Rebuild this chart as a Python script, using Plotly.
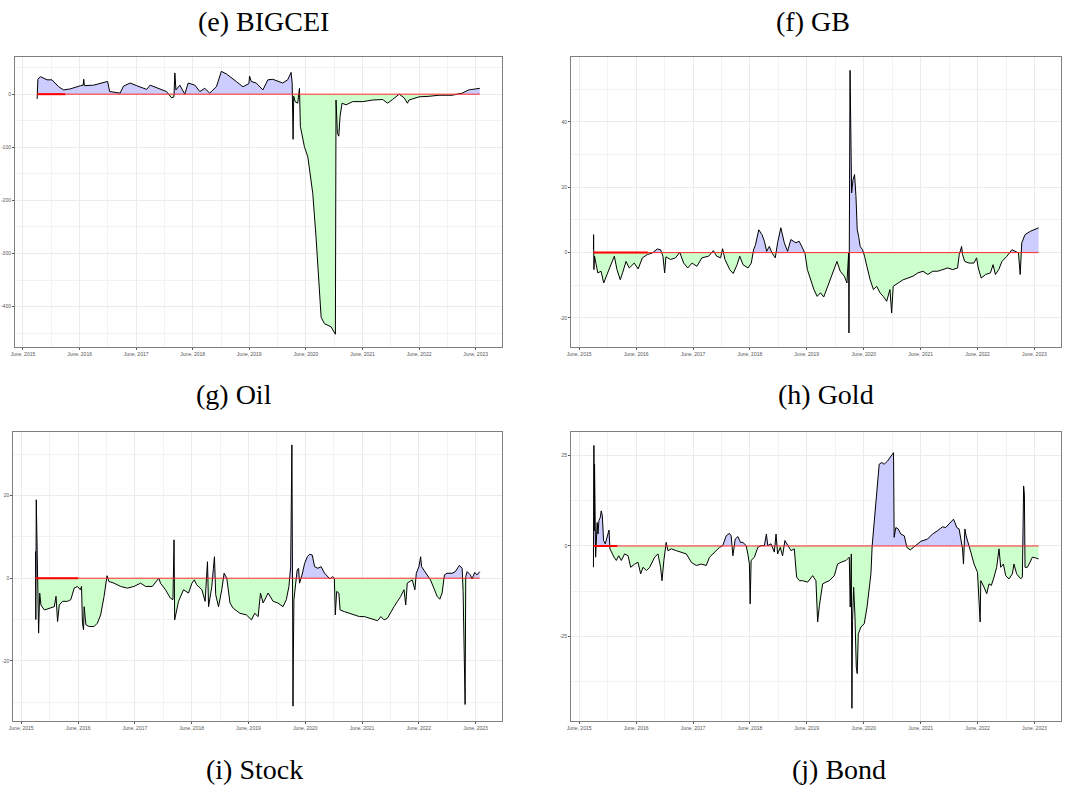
import numpy as np
import pandas as pd
import plotly.graph_objects as go

# ---------------- data ----------------
bigcei_dates = ["2015-09-01","2015-09-06","2015-09-23","2015-11-04","2015-12-06","2016-01-18","2016-02-19","2016-04-03",
    "2016-06-07","2016-06-24","2016-06-28","2016-07-02","2016-08-31","2016-11-03","2016-11-29","2016-12-12","2017-02-18",
    "2017-03-11","2017-04-23","2017-06-05","2017-08-08","2017-08-30","2017-11-02","2017-12-14","2018-01-16","2018-01-31",
    "2018-02-06","2018-02-13","2018-03-10","2018-04-11","2018-05-03","2018-06-15","2018-07-17","2018-08-18","2018-09-19",
    "2018-11-01","2018-12-03","2019-01-05","2019-03-09","2019-04-21","2019-05-30","2019-06-03","2019-06-14","2019-07-16",
    "2019-08-28","2019-09-29","2019-10-31","2019-12-02","2020-01-03","2020-02-04","2020-02-26","2020-03-04","2020-03-10",
    "2020-03-14","2020-03-23","2020-04-09","2020-04-20","2020-04-26","2020-05-22","2020-06-13","2020-07-15","2020-08-05",
    "2020-08-27","2020-09-07","2020-09-28","2020-11-10","2020-12-08","2020-12-12","2020-12-21","2020-12-30","2021-01-07",
    "2021-01-20","2021-02-15","2021-03-30","2021-06-03","2021-08-06","2021-10-09","2021-11-10","2021-12-12","2022-01-24",
    "2022-02-25","2022-03-18","2022-03-28","2022-06-01","2022-08-04","2022-10-08","2023-01-01","2023-03-07","2023-04-17",
    "2023-06-28"]
bigcei_vals = [-9,28,33,27,27,14,8,10,
    16,17,28,16,17,21,24,5,2,
    15,21,16,9,17,9,5,-7,-5,
    40,8,17,0,21,17,5,11,2,
    14,43,38,24,14,20,34,24,21,
    8,27,28,24,21,27,41,21,-85,
    -4,-14,-17,11,-61,-99,-118,-187,-269,
    -357,-420,-432,-438,-452,-11,-74,-79,-42,
    -17,-20,-14,-14,-11,-10,-17,-10,0,
    -7,-17,-11,-5,-4,-2,-2,2,8,
    11]

gb_dates = ["2015-09-01","2015-09-02","2015-09-04","2015-09-08","2015-09-18","2015-09-29","2015-10-20","2015-11-06",
    "2015-11-27","2015-12-23","2016-01-13","2016-01-30","2016-02-20","2016-03-06","2016-03-28","2016-04-18","2016-05-20",
    "2016-06-14","2016-07-11","2016-08-12","2016-09-13","2016-10-15","2016-11-05","2016-11-20","2016-12-01","2016-12-09",
    "2017-01-08","2017-02-09","2017-03-08","2017-04-02","2017-04-28","2017-05-26","2017-06-26","2017-07-28","2017-09-09",
    "2017-10-10","2017-10-31","2017-11-25","2017-12-08","2017-12-23","2018-01-23","2018-02-14","2018-03-11","2018-03-28",
    "2018-04-18","2018-05-20","2018-06-10","2018-06-25","2018-07-07","2018-07-28","2018-08-18","2018-09-02","2018-09-17",
    "2018-10-04","2018-10-21","2018-11-11","2018-11-26","2018-12-17","2019-01-08","2019-01-29","2019-02-19","2019-03-23",
    "2019-04-13","2019-05-05","2019-05-21","2019-06-05","2019-06-26","2019-07-17","2019-08-07","2019-08-28","2019-09-18",
    "2019-10-10","2019-11-10","2019-12-12","2020-01-02","2020-01-28","2020-02-14","2020-02-25","2020-02-27","2020-03-01",
    "2020-03-05","2020-03-09","2020-03-15","2020-03-24","2020-04-03","2020-04-12","2020-04-20","2020-04-29","2020-05-09",
    "2020-05-24","2020-06-06","2020-06-21","2020-07-12","2020-08-02","2020-08-23","2020-09-13","2020-10-04","2020-10-26",
    "2020-11-16","2020-11-27","2020-12-07","2021-01-08","2021-02-09","2021-03-12","2021-04-13","2021-05-15","2021-06-16",
    "2021-07-17","2021-08-18","2021-09-19","2021-10-21","2021-11-22","2021-12-24","2022-01-24","2022-02-04","2022-02-19",
    "2022-02-25","2022-03-11","2022-04-08","2022-05-09","2022-05-26","2022-06-06","2022-06-25","2022-07-23","2022-08-23",
    "2022-09-09","2022-09-24","2022-10-15","2022-11-05","2022-12-07","2023-01-08","2023-01-29","2023-02-19","2023-03-02",
    "2023-03-12","2023-04-02","2023-05-05","2023-06-28"]
gb_vals = [1,5.5,-5.2,-1.1,-3.2,-6.2,-5.7,-9.3,
    -6.7,-3.7,-1.1,-5.2,-8.3,-6.2,-2.7,-4.7,-3.2,
    -5,-1.6,-0.6,-0.1,1.1,0.9,-1.1,-6.2,-1.3,
    -2.1,-1.6,0.1,-3.2,-4.7,-3.2,-4.2,-1.6,-1.1,
    0.6,-1.1,-1.6,1.2,-2.1,-5.2,-6.4,-3.7,-1.1,
    -3.7,-4.7,-3.2,0.9,2.4,7,5.5,3.5,0.4,
    1.9,-0.1,-1.6,3,7.6,3,0.4,4,3,
    3.5,1.4,-0.3,-5.2,-8.3,-11.3,-13.4,-12.3,-13.6,
    -10.8,-7.2,-2.7,-5.7,-7.2,-9.3,-0.1,-24.6,41.7,
    55.8,40.7,18.3,22.3,23.9,17.2,7,5,1.9,
    0.9,-1.1,-4.2,-8.3,-11.3,-10.3,-12.3,-13.4,-14.9,
    -11.3,-18.5,-10.3,-9.3,-8.3,-7.8,-7.2,-6.2,-5.7,
    -6.7,-5.7,-5.7,-5.2,-4.7,-5.2,-4.7,-0.6,1.9,
    -0.6,-2.7,-3.2,-3.2,-1.6,-4.7,-7.8,-6.7,-6.2,
    -3.7,-6.7,-5.2,-2.7,-1.1,0.9,0.4,-0.1,-6.7,
    3,5.5,6.5,7.6]

oil_dates = ["2015-09-01","2015-09-03","2015-09-06","2015-09-11","2015-09-15","2015-09-21","2015-09-28","2015-10-06",
    "2015-10-28","2015-11-29","2015-12-31","2016-01-11","2016-01-21","2016-02-01","2016-02-22","2016-03-25","2016-04-15",
    "2016-05-07","2016-05-28","2016-06-15","2016-06-23","2016-06-29","2016-07-06","2016-07-10","2016-07-21","2016-08-11",
    "2016-09-12","2016-10-03","2016-10-24","2016-11-15","2016-11-25","2016-12-04","2016-12-16","2017-01-18","2017-03-02",
    "2017-04-14","2017-05-26","2017-07-08","2017-08-09","2017-09-21","2017-11-02","2017-11-13","2017-12-15","2018-01-15",
    "2018-02-01","2018-02-08","2018-02-12","2018-02-23","2018-03-09","2018-04-10","2018-05-12","2018-06-03","2018-06-18",
    "2018-07-04","2018-08-06","2018-08-27","2018-09-11","2018-09-18","2018-10-09","2018-10-19","2018-10-26","2018-11-03",
    "2018-11-21","2018-12-12","2018-12-27","2019-01-13","2019-02-03","2019-02-24","2019-04-08","2019-05-20","2019-06-21",
    "2019-07-12","2019-08-03","2019-08-18","2019-09-04","2019-10-06","2019-11-07","2019-12-08","2020-01-10","2020-01-31",
    "2020-02-17","2020-02-28","2020-03-03","2020-03-07","2020-03-12","2020-03-14","2020-03-16","2020-03-20","2020-03-29",
    "2020-04-10","2020-04-19","2020-04-25","2020-05-11","2020-05-28","2020-06-14","2020-06-29","2020-07-16","2020-07-31",
    "2020-08-21","2020-09-11","2020-10-03","2020-10-24","2020-11-07","2020-11-24","2020-12-05","2020-12-11","2020-12-20",
    "2021-01-03","2021-01-11","2021-02-08","2021-03-11","2021-04-12","2021-05-15","2021-06-16","2021-07-17","2021-08-18",
    "2021-09-09","2021-09-30","2021-10-21","2021-11-11","2021-12-03","2021-12-24","2022-01-15","2022-02-05","2022-02-26",
    "2022-03-09","2022-03-19","2022-04-20","2022-05-07","2022-05-16","2022-06-02","2022-06-13","2022-06-19","2022-07-04",
    "2022-07-25","2022-08-15","2022-09-06","2022-09-27","2022-10-14","2022-10-29","2022-11-13","2022-11-30","2023-01-01",
    "2023-01-22","2023-02-17","2023-03-07","2023-03-13","2023-03-22","2023-03-26","2023-03-30","2023-04-08","2023-04-29",
    "2023-05-09","2023-05-27","2023-06-10","2023-06-28"]
oil_vals = [6.5,-10,19,3.6,-6.9,-13.3,-3.6,-6.5,
    -7.7,-7.3,-6.9,-4.4,-10.5,-6.5,-5.6,-5.6,-5.2,
    -2.4,-2.0,-2.8,-2,-10.9,-12.5,-6.9,-11.3,-11.7,
    -11.7,-10.9,-8.9,-4.4,-1.2,0.6,-0.8,-1.2,-2,
    -2.4,-2,-1.2,-2,-2,0,-1.2,-2.8,-4.8,
    -5.2,9.3,-10.1,-7.7,-5.6,-2.8,-3.6,-1.2,-0.4,
    -1.6,-2.8,-5.6,4,-6.9,-2,2.4,5.2,-4,
    -6.9,-2.8,1.2,0,-6,-7.3,-8.5,-8.9,-10.1,
    -8.5,-9.3,-3.6,-6,-3.6,-5.6,-6,-6.9,-5.2,
    -2,2.8,14.1,32.3,-10.1,-31,-19.8,-5.2,-2,
    2,2.4,-1.2,0.8,3.6,5.2,5.8,5.6,2.8,
    2.4,2.8,1.2,0.4,-0.2,0.4,0,-8.9,-3.2,
    -3.6,-7.7,-8.1,-8.5,-8.9,-9.3,-9.3,-9.7,-10.1,
    -10.3,-9.3,-10.1,-9.7,-8.1,-6.9,-5.6,-4.4,-2.8,
    -6.5,-1.2,-0.4,-2.8,1.2,2.8,5.2,2.8,2,
    0.8,-0.4,-2.4,-4.4,-5.1,-3.6,0.8,1.2,1.2,
    1.6,3.1,2.4,-3.2,-28.6,-30.6,0.4,1.6,0.8,
    -0.2,1.4,0.8,1.6]

gold_dates = ["2015-09-01","2015-09-02","2015-09-04","2015-09-06","2015-09-08","2015-09-15","2015-09-19","2015-09-25",
    "2015-09-30","2015-10-06","2015-10-15","2015-10-21","2015-10-28","2015-11-05","2015-11-16","2015-11-29","2015-12-10",
    "2015-12-16","2015-12-25","2016-01-11","2016-01-26","2016-02-10","2016-02-27","2016-03-19","2016-04-10","2016-04-27",
    "2016-05-23","2016-06-13","2016-06-30","2016-07-15","2016-08-06","2016-08-27","2016-09-28","2016-10-19","2016-11-05",
    "2016-11-14","2016-11-26","2016-12-11","2016-12-22","2017-01-13","2017-02-14","2017-03-18","2017-04-19","2017-05-21",
    "2017-06-22","2017-07-24","2017-08-25","2017-09-15","2017-10-17","2017-11-18","2017-12-09","2017-12-31","2018-01-21",
    "2018-02-01","2018-02-12","2018-02-27","2018-03-16","2018-04-02","2018-04-17","2018-05-08","2018-05-19","2018-05-29",
    "2018-06-03","2018-06-09","2018-06-30","2018-07-22","2018-08-12","2018-09-02","2018-09-15","2018-09-24","2018-10-15",
    "2018-11-05","2018-11-16","2018-11-26","2018-12-13","2018-12-28","2019-01-12","2019-01-30","2019-02-20","2019-03-13",
    "2019-03-28","2019-04-15","2019-05-06","2019-06-07","2019-07-09","2019-07-30","2019-08-10","2019-08-21","2019-09-11",
    "2019-10-02","2019-10-24","2019-11-25","2019-12-16","2020-01-07","2020-02-08","2020-02-29","2020-03-06","2020-03-13",
    "2020-03-17","2020-03-21","2020-03-28","2020-04-05","2020-04-14","2020-04-20","2020-04-27","2020-05-14","2020-06-04",
    "2020-06-22","2020-07-06","2020-07-17","2020-07-25","2020-08-07","2020-08-24","2020-09-08","2020-09-25","2020-10-10",
    "2020-11-01","2020-11-22","2020-12-09","2020-12-13","2020-12-24","2021-01-08","2021-01-25","2021-02-16","2021-03-05",
    "2021-03-26","2021-04-17","2021-05-02","2021-06-03","2021-07-15","2021-08-16","2021-09-17","2021-10-19","2021-11-09",
    "2021-12-01","2021-12-16","2021-12-29","2022-01-07","2022-01-19","2022-02-03","2022-02-14","2022-02-25","2022-03-03",
    "2022-03-12","2022-03-20","2022-04-02","2022-04-19","2022-05-10","2022-06-01","2022-06-18","2022-06-22","2022-07-13",
    "2022-07-30","2022-08-14","2022-08-29","2022-09-15","2022-10-02","2022-10-17","2022-10-28","2022-11-14","2022-11-29",
    "2022-12-20","2023-01-11","2023-01-21","2023-02-07","2023-03-05","2023-03-16","2023-03-24","2023-03-29","2023-04-02",
    "2023-04-17","2023-05-04","2023-05-19","2023-06-09","2023-06-28"]
gold_vals = [-5.9,0,27.8,4.2,22.6,-3.1,4.2,6.5,
    3.3,7,7.9,9.7,8.4,1.5,0.6,2.4,4.4,
    -0.8,-1.7,-3.1,-4,-2.7,-4,-2.2,-2.7,-5.9,
    -5,-4.5,-7.7,-5.9,-6.8,-5.9,-3.1,-2.2,-5.9,
    -9.6,-4,1,-1.3,-0.8,-1.3,-1.7,-2.2,-4.5,
    -5.4,-5,-5.4,-3.1,-1.7,-0.4,0.1,2.8,3.5,
    2.8,-2.7,1.9,2.6,1,1,0.1,-2.2,-5,
    -16,-4,-3.1,-0.4,0.1,0.1,3.3,0.1,0.6,
    -1.7,3.3,-2.2,-0.4,-2.7,1.5,0.1,-1.3,-0.8,
    -8.6,-9.6,-9.6,-10,-8.2,-9.6,-21,-16.5,-10.5,
    -10,-9.6,-8.2,-5,-4.5,-4,-3.1,-16.9,-2.2,
    -44.9,-20.6,-11.4,-18.8,-33.5,-35.3,-24.3,-22.4,-21.5,
    -16.9,-12.3,-7.7,0.1,7,16.2,22.6,23.1,22.6,
    23.5,24.9,25.8,2.4,5.1,4.7,3.3,2.8,-0.4,
    -1.1,-0.4,0.1,1.3,1.9,3.3,4.2,5.3,5.1,
    6.1,7,7.4,6.5,5.1,4.7,1.9,-0.8,-5,
    4.7,2.8,0.6,-1.7,-5,-7.3,-21,-9.6,-11.4,
    -13.2,-10.5,-10.9,-8.6,-5.9,-0.8,-5.9,-5,-8.2,
    -9.1,-7.7,-5,-7.7,-9.1,-8.6,16.6,14.3,-5.9,
    -5.9,-4.5,-3.1,-3.3,-3.6]

# end of the thicker red critical-value segment at the start of each panel
crit_end = {"bigcei": "2016-03-01", "gb": "2016-08-15", "oil": "2016-06-01", "gold": "2016-02-01"}

titles = ["(e) BIGCEI", "(f) GB", "(g) Oil", "(h) Gold", "(i) Stock", "(j) Bond"]
years = list(range(2015, 2024))
xtick_vals = [f"{y}-06-01" for y in years]
xtick_text = [f"June, {y}" for y in years]
xminor_vals = [f"{y}-12-01" for y in range(2014, 2024)]
x_range = ["2015-04-11", "2023-11-19"]

panels = [
    dict(key="bigcei", d=bigcei_dates, v=bigcei_vals, yr=[-476, 70], yt=[0, -100, -200, -300, -400],
         ym=[50, -50, -150, -250, -350, -450], px=(11, 500), py=(57, 347)),
    dict(key="gb", d=gb_dates, v=gb_vals, yr=[-28.9, 59.9], yt=[40, 20, 0, -20],
         ym=[50, 30, 10, -10], px=(569.3, 1061), py=(57, 347)),
    dict(key="oil", d=oil_dates, v=oil_vals, yr=[-34.6, 35.5], yt=[20, 0, -20],
         ym=[30, 10, -10, -30], px=(9.3, 500), py=(431.7, 721)),
    dict(key="gold", d=gold_dates, v=gold_vals, yr=[-48.4, 31.6], yt=[25, 0, -25],
         ym=[12.5, -12.5, -37.5], px=(569.3, 1061), py=(431.7, 721)),
]

W, H = 1065, 787
BLUE = "#CCCCFF"
GREEN = "#CCFFCC"


def split_fill(dates, vals):
    t = pd.to_datetime(dates).astype("int64").to_numpy().astype(float)
    v = np.asarray(vals, float)
    ts, vs = [t[0]], [v[0]]
    for i in range(1, len(v)):
        if v[i - 1] * v[i] < 0:
            f = v[i - 1] / (v[i - 1] - v[i])
            ts.append(t[i - 1] + f * (t[i] - t[i - 1]))
            vs.append(0.0)
        ts.append(t[i])
        vs.append(v[i])
    ts = pd.to_datetime(np.array(ts).astype("int64"))
    vs = np.array(vs)
    return ts, np.maximum(vs, 0), np.minimum(vs, 0)


fig = go.Figure()
for i, p in enumerate(panels):
    n = "" if i == 0 else str(i + 1)
    xa, ya = "x" + n, "y" + n
    ts, pos, neg = split_fill(p["d"], p["v"])
    fig.add_trace(go.Scatter(x=ts, y=pos, mode="lines", line=dict(width=0), fill="tozeroy",
                             fillcolor=BLUE, xaxis=xa, yaxis=ya, hoverinfo="skip", showlegend=False))
    fig.add_trace(go.Scatter(x=ts, y=neg, mode="lines", line=dict(width=0), fill="tozeroy",
                             fillcolor=GREEN, xaxis=xa, yaxis=ya, hoverinfo="skip", showlegend=False))
    fig.add_trace(go.Scatter(x=pd.to_datetime(p["d"]), y=p["v"], mode="lines",
                             line=dict(color="black", width=1), xaxis=xa, yaxis=ya, showlegend=False))
    # red reference / critical value line
    fig.add_trace(go.Scatter(x=[p["d"][0], p["d"][-1]], y=[0, 0], mode="lines",
                             line=dict(color="#FF2A2A", width=1), xaxis=xa, yaxis=ya, showlegend=False))
    fig.add_trace(go.Scatter(x=[p["d"][0], crit_end[p["key"]]], y=[0, 0], mode="lines",
                             line=dict(color="#FF0000", width=2), xaxis=xa, yaxis=ya, showlegend=False))

    x0, x1 = p["px"]
    y0, y1 = p["py"]
    common = dict(showline=True, mirror=True, linecolor="#7F7F7F", linewidth=1,
                  showgrid=True, gridcolor="#EBEBEB", gridwidth=1, zeroline=False,
                  ticks="outside", ticklen=2, tickwidth=0.6, tickcolor="#555555",
                  tickfont=dict(family="Liberation Sans", size=5, color="#555555"))
    fig.update_layout(**{
        ("xaxis" + n): dict(domain=[x0 / W, x1 / W], anchor=ya, type="date", range=x_range,
                            tickmode="array", tickvals=xtick_vals, ticktext=xtick_text,
                            minor=dict(tickmode="array", tickvals=xminor_vals, showgrid=True,
                                       gridcolor="#F2F2F2", gridwidth=0.6, ticks=""),
                            **common),
        ("yaxis" + n): dict(domain=[1 - y1 / H, 1 - y0 / H], anchor=xa, range=p["yr"],
                            tickmode="array", tickvals=p["yt"], ticktext=[str(t) for t in p["yt"]],
                            minor=dict(tickmode="array", tickvals=p["ym"], showgrid=True,
                                       gridcolor="#F2F2F2", gridwidth=0.6, ticks=""),
                            **common),
    })

title_pos = [(260, 22), (812, 22), (231, 394), (825, 394), (251, 769), (838, 769)]
for txt, (cx, cy) in zip(titles, title_pos):
    fig.add_annotation(text=txt, x=cx / W, y=1 - cy / H, xref="paper", yref="paper",
                       xanchor="center", yanchor="middle", showarrow=False,
                       font=dict(family="Liberation Serif", size=28, color="black"))

fig.update_layout(width=W, height=H, margin=dict(l=0, r=0, t=0, b=0),
                  paper_bgcolor="white", plot_bgcolor="white")
fig.write_html("out.html", config={"displayModeBar": False},
               post_script="document.body.style.margin='0px';")
